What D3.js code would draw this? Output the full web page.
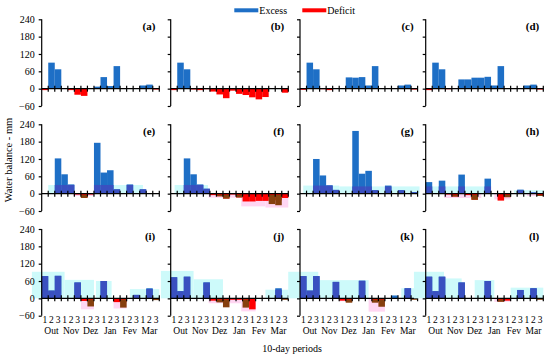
<!DOCTYPE html>
<html><head><meta charset="utf-8">
<script src="https://cdn.jsdelivr.net/npm/d3@7/dist/d3.min.js"></script>
<style>
body{margin:0;background:#fff}
svg{font-family:"Liberation Serif","Times New Roman",serif}
</style>
</head><body>
<svg id="chart" width="550" height="358"></svg>
<script>
// ---------- DATA ----------
const panelLabels = ["(a)","(b)","(c)","(d)","(e)","(f)","(g)","(h)","(i)","(j)","(k)","(l)"];
const months = ["Out","Nov","Dez","Jan","Fev","Mar"];
const decades = ["1","2","3"];
const yTicks = [-60,0,60,120,180,240];
const legendLabels = ["Excess","Deficit"];

// 18 ten-day periods per panel (Out 1 ... Mar 3)
const excess = [
  [0,90,67,0,0,0,0,0,7,40,9,78,0,0,0,11,14,0],
  [0,90,67,0,0,0,0,0,0,0,0,0,0,0,0,0,0,0],
  [0,90,67,0,0,0,2,39,38,40,11,78,0,0,0,11,14,0],
  [0,90,67,0,0,32,32,38,38,41,11,78,0,0,0,11,14,0],
  [0,0,122,67,32,0,0,0,176,73,81,15,0,32,0,15,0,0],
  [0,0,122,67,32,17,0,0,0,0,0,0,0,0,0,0,0,0],
  [0,0,120,63,29,13,0,0,217,69,79,12,0,28,0,12,0,5],
  [40,0,45,0,0,66,0,0,0,52,0,0,0,0,14,0,4,0],
  [77,27,78,0,0,55,0,0,0,60,0,0,0,0,12,0,35,0],
  [73,25,75,0,0,55,0,0,0,0,0,0,0,0,0,0,35,0],
  [77,27,77,0,0,57,0,0,0,61,0,0,0,0,10,0,35,0],
  [75,25,75,0,0,55,0,0,0,60,0,0,0,0,29,0,35,0]
];
const deficit = [
  [-5,0,0,0,-5,-21,-25,0,0,0,0,0,0,0,0,0,0,-3],
  [-5,0,0,-3,-5,-2,-10,-20,-33,-7,-18,-22,-30,-37,-29,0,0,-14],
  [-4,0,0,-2,-5,0,0,0,0,0,0,0,0,0,0,0,0,-3],
  [-5,0,0,-2,0,0,0,0,0,0,0,0,0,0,0,0,0,-3],
  [0,0,0,0,0,-3,-15,-3,0,0,0,0,0,0,0,0,0,0],
  [0,0,0,0,0,0,-5,-9,-17,-3,-13,-27,-27,-25,-25,-23,-23,-15],
  [0,0,0,0,0,0,0,0,0,0,0,0,0,0,0,0,0,0],
  [0,0,0,-3,-10,0,-5,-21,0,0,0,-24,-12,0,0,0,0,-8],
  [0,0,0,0,0,0,-9,-9,0,0,0,-13,-13,0,0,0,0,0],
  [0,0,0,0,0,0,-8,-8,-8,-5,-5,-8,-38,0,0,0,0,0],
  [0,0,0,0,0,0,-8,-8,0,0,0,-10,-10,0,0,0,0,0],
  [0,0,0,0,0,0,0,0,0,0,0,-10,-8,0,0,0,0,0]
];
// darker (overlapping) deficit series
const deficitDark = [
  [0,0,0,0,0,0,0,0,0,0,0,0,0,0,0,0,0,0],
  [0,0,0,0,0,0,0,0,0,0,0,0,0,0,0,0,0,0],
  [0,0,0,0,0,0,0,0,0,0,0,0,0,0,0,0,0,0],
  [0,0,0,0,0,0,0,0,0,0,0,0,0,0,0,0,0,0],
  [0,0,0,0,0,0,-15,0,0,0,0,0,0,0,0,0,0,0],
  [0,0,0,0,0,0,0,-9,-17,0,-13,0,0,0,0,-36,-40,0],
  [0,0,0,0,0,0,0,0,0,0,0,0,0,0,0,0,0,0],
  [0,0,0,0,-10,0,0,-21,0,0,0,0,-12,0,0,0,0,-8],
  [0,0,0,0,0,0,0,-28,0,0,0,0,-32,0,0,0,0,-6],
  [0,0,0,0,0,0,0,-14,-31,0,0,-32,0,0,0,0,0,-5],
  [0,0,0,0,0,0,0,-15,0,0,0,-15,-29,0,0,0,0,-5],
  [0,0,0,0,0,0,0,0,0,0,0,-12,0,0,0,0,0,-5]
];
// shaded ranges: [startPeriod, endPeriod, value]
const excessBand = [
  [],[],[],[],
  [[1,5,30],[8,15.5,30]],
  [[0.6,5.7,30]],
  [[0.5,6,28],[6,18.3,25]],
  [[0,10,25],[13.5,18,12]],
  [[-1.5,3.5,92],[3.5,8,64],[8.3,10.7,60],[13.5,18,32]],
  [[-1.5,3.5,95],[3.5,8,66],[14.5,18,30]],
  [[-1.8,2.8,92],[2.8,10.5,63],[15.5,18,35]],
  [[-1.8,2.8,92],[2.8,5.5,69],[7.5,10.5,63],[13,18,37]]
];
const deficitBand = [
  [],[],[],[],
  [[4.8,8,-8]],
  [[5.8,10.8,-14],[10.8,14.5,-44],[14.5,18,-48]],
  [],
  [[2.8,8.5,-15],[10.5,13,-20],[15.5,18,-8]],
  [[6,8,-38],[11,13,-35]],
  [[5.8,10.8,-17],[10.8,13,-45]],
  [[6,8,-10],[10.5,13,-46]],
  [[10.5,13,-12]]
];

// ---------- LAYOUT ----------
const colX = [41.7,170.7,300,425.7];
const rowY = [19.3,124.3,229];
const pw = 117.6, ph = 86.7;
const C = {blue:"#1e6fc6", blueDark:"#3a50c0", red:"#ff0000", brown:"#86400e",
           cyan:"#cdfafa", pink:"#ffd6f2"};

const svg = d3.select("#chart");
const x = d3.scaleLinear().domain([0,18]).range([0,pw]);
const y = d3.scaleLinear().domain([-60,240]).range([ph,0]);
const periods = d3.range(18);

function bandAt(segs, i){
  const c = i + 0.5;
  const s = segs.find(s => c >= s[0] && c <= s[1]);
  return s ? s[2] : 0;
}

panelLabels.forEach((lab, p) => {
  const r = Math.floor(p/4), c = p % 4;
  const g = svg.append("g").attr("transform", `translate(${colX[c]},${rowY[r]})`);

  // bands
  g.selectAll("rect.cb").data(excessBand[p]).join("rect")
    .attr("x", d => x(d[0])).attr("width", d => x(d[1]) - x(d[0]))
    .attr("y", d => y(d[2])).attr("height", d => y(0) - y(d[2]))
    .attr("fill", C.cyan);
  g.selectAll("rect.pb").data(deficitBand[p]).join("rect")
    .attr("x", d => x(d[0])).attr("width", d => x(d[1]) - x(d[0]))
    .attr("y", y(0)).attr("height", d => y(d[2]) - y(0))
    .attr("fill", C.pink);

  // excess bars
  g.append("g").selectAll("rect").data(periods.filter(i => excess[p][i] > 0)).join("rect")
    .attr("x", i => x(i)).attr("width", x(1) - x(0))
    .attr("y", i => y(excess[p][i])).attr("height", i => y(0) - y(excess[p][i]))
    .attr("fill", C.blue);
  // overlap with band -> darker
  g.append("g").selectAll("rect").data(periods.filter(i => excess[p][i] > 0 && bandAt(excessBand[p], i) > 0)).join("rect")
    .attr("x", i => x(i)).attr("width", x(1) - x(0))
    .attr("y", i => y(Math.min(excess[p][i], bandAt(excessBand[p], i))))
    .attr("height", i => y(0) - y(Math.min(excess[p][i], bandAt(excessBand[p], i))))
    .attr("fill", C.blueDark);

  // deficit bars
  g.append("g").selectAll("rect").data(periods.filter(i => deficit[p][i] < 0)).join("rect")
    .attr("x", i => x(i)).attr("width", x(1) - x(0))
    .attr("y", y(0)).attr("height", i => y(deficit[p][i]) - y(0))
    .attr("fill", C.red);
  g.append("g").selectAll("rect").data(periods.filter(i => deficitDark[p][i] < 0)).join("rect")
    .attr("x", i => x(i)).attr("width", x(1) - x(0))
    .attr("y", i => y(Math.max(deficit[p][i], -4))).attr("height", i => y(deficitDark[p][i]) - y(Math.max(deficit[p][i], -4)))
    .attr("fill", C.brown);

  // y axis
  const ya = g.append("g").call(d3.axisLeft(y).tickValues(yTicks).tickSize(3)
                 .tickFormat(c === 0 ? d3.format("d") : () => ""));
  ya.select(".domain").attr("d", `M0,${y(240)}V${y(-60)}`).attr("stroke","#000").attr("stroke-width",1.2);
  ya.selectAll(".tick line").attr("stroke","#000").attr("stroke-width",1.2);
  ya.selectAll(".tick text").attr("font-size",10).attr("x",-7).attr("fill","#000")
    .attr("font-family","Liberation Serif, serif");

  // x axis at zero
  g.append("line").attr("x1",0).attr("x2",x(18)).attr("y1",y(0)).attr("y2",y(0))
    .attr("stroke","#000").attr("stroke-width",1.2);
  g.append("g").selectAll("line").data(d3.range(1,19)).join("line")
    .attr("x1", k => x(k)).attr("x2", k => x(k))
    .attr("y1", y(0)-3).attr("y2", y(0)+3)
    .attr("stroke","#000").attr("stroke-width",1.2);

  // panel label
  g.append("text").attr("x", pw - 4).attr("y", 11).attr("text-anchor","end")
    .attr("font-size",11).attr("font-weight","bold").text(lab);

  if (r === 2) {
    g.append("g").selectAll("text").data(periods).join("text")
      .attr("x", i => x(i + 0.5)).attr("y", y(0) + 25)
      .attr("text-anchor","middle").attr("font-size",9.5).text(i => decades[i % 3]);
    g.append("g").selectAll("text").data(months).join("text")
      .attr("x", (m, k) => x(3*k + 1.5)).attr("y", y(0) + 36)
      .attr("text-anchor","middle").attr("font-size",9.5).text(m => m);
  }
});

// legend
const lg = svg.append("g");
[C.blue, C.red].forEach((col, k) => {
  const lx = [234.3, 302.3][k];
  lg.append("rect").attr("x", lx).attr("y", 8.3).attr("width", 24).attr("height", 4).attr("fill", col);
  lg.append("text").attr("x", lx + 25).attr("y", 14).attr("font-size",10).text(legendLabels[k]);
});

// axis titles
svg.append("text").attr("transform","translate(12,160) rotate(-90)")
  .attr("text-anchor","middle").attr("font-size",10.5).text("Water balance - mm");
svg.append("text").attr("x",292).attr("y",352).attr("text-anchor","middle")
  .attr("font-size",10).text("10-day periods");
</script>
</body></html>
